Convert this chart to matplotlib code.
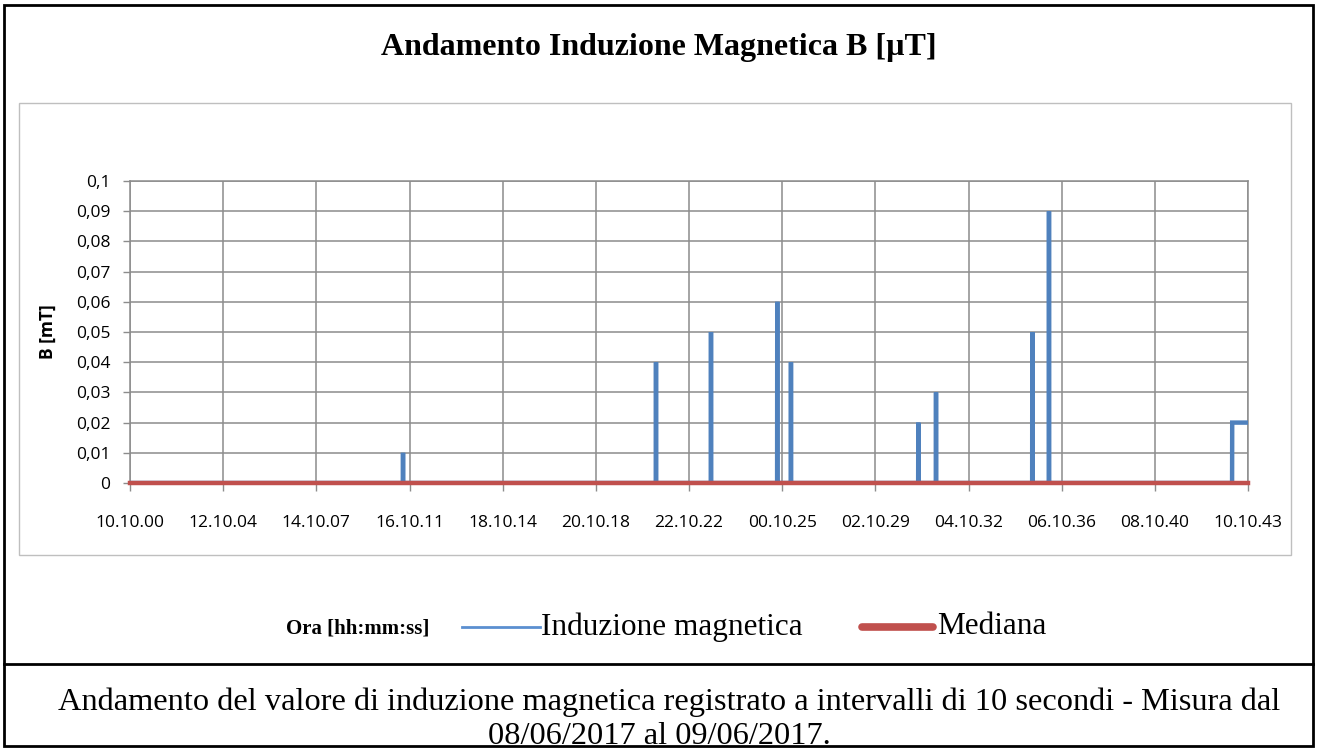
import numpy as np
import matplotlib
matplotlib.use("Agg")
from matplotlib import pyplot as plt
from matplotlib.lines import Line2D
from matplotlib.patches import Rectangle

W, H = 1318, 748

# samples every ~10 s, a label every 720 samples
N_SAMPLES = 8641
LABEL_STEP = 720
tick_labels = ["10.10.00", "12.10.04", "14.10.07", "16.10.11", "18.10.14",
               "20.10.18", "22.10.22", "00.10.25", "02.10.29", "04.10.32",
               "06.10.36", "08.10.40", "10.10.43"]

# non-zero readings (sample index, value in mT)
spike_idx = [2110, 4065, 4490, 5002, 5108, 6092, 6229, 6973, 7102]
spike_val = [0.01, 0.04, 0.05, 0.06, 0.04, 0.02, 0.03, 0.05, 0.09]
tail_start = 8518
tail_val = 0.02
median_val = 0.0

y_ticks = [0, 0.01, 0.02, 0.03, 0.04, 0.05, 0.06, 0.07, 0.08, 0.09, 0.1]

BLUE = "#4F81BD"
RED = "#C0504D"
GRID = "#8C8C8C"
SERIF = "Liberation Serif"
SANS = "Open Sans"


def fx(px):
    return px / W


def fy(py):
    return 1 - py / H


b = np.zeros(N_SAMPLES)
b[spike_idx] = spike_val
b[tail_start:] = tail_val
x = np.arange(N_SAMPLES)
median = np.full(N_SAMPLES, median_val)

fig = plt.figure(figsize=(W / 100, H / 100), dpi=100)

# outer table frame + caption separator
fig.add_artist(Rectangle((fx(4), fy(746)), fx(1309), 741 / H, transform=fig.transFigure,
                         fill=False, edgecolor="black", linewidth=2))
fig.add_artist(Line2D([fx(4), fx(1313)], [fy(664), fy(664)], transform=fig.transFigure,
                      color="black", linewidth=2))
# chart area border
fig.add_artist(Rectangle((fx(19), fy(555)), fx(1272), 452 / H, transform=fig.transFigure,
                         fill=False, edgecolor="#BFBFBF", linewidth=1))

ax = fig.add_axes([fx(130), fy(483), fx(1118), 302 / H])
ax.plot(x, b, color=BLUE, linewidth=3.2, solid_joinstyle="miter", zorder=3)
ax.plot(x, median, color=RED, linewidth=3.2, zorder=4, clip_on=False)

ax.set_xlim(0, N_SAMPLES - 1)
ax.set_ylim(0, 0.1)
ax.set_xticks(np.arange(0, N_SAMPLES, LABEL_STEP))
ax.set_xticklabels(tick_labels, fontfamily=SANS, fontsize=12.5)
ax.set_yticks(y_ticks)
ax.set_yticklabels([("%g" % v).replace(".", ",") for v in y_ticks],
                   fontfamily=SANS, fontsize=12.5)
ax.tick_params(axis="x", direction="out", length=6, width=1, color=GRID, pad=17)
ax.tick_params(axis="y", direction="out", length=5, width=1, color=GRID, pad=9)
ax.grid(True, color=GRID, linewidth=1.1)
ax.set_axisbelow(True)
for side in ax.spines:
    ax.spines[side].set_color(GRID)
    ax.spines[side].set_linewidth(1.1)

ax.set_ylabel("B [mT]", fontfamily=SANS, fontweight="bold", fontsize=12.5, labelpad=14)

fig.text(fx(659), fy(47), "Andamento Induzione Magnetica B [µT]", ha="center", va="center",
         fontfamily=SERIF, fontweight="bold", fontsize=23)

# legend row: x axis title, then the two series keys
fig.text(fx(358), fy(629), "Ora [hh:mm:ss]", ha="center", va="center",
         fontfamily=SERIF, fontweight="bold", fontsize=15)
fig.add_artist(Line2D([fx(462), fx(540)], [fy(627), fy(627)], transform=fig.transFigure,
                      color="#5B8FD0", linewidth=2))
fig.text(fx(541), fy(627), "Induzione magnetica", ha="left", va="center",
         fontfamily=SERIF, fontsize=22.5)
fig.add_artist(Line2D([fx(862), fx(933)], [fy(627), fy(627)], transform=fig.transFigure,
                      color=RED, linewidth=5.5, solid_capstyle="round"))
fig.text(fx(937), fy(627), "Mediana", ha="left", va="center",
         fontfamily=SERIF, fontsize=22.5)

fig.text(fx(669), fy(702),
         "Andamento del valore di induzione magnetica registrato a intervalli di 10 secondi - Misura dal",
         ha="center", va="center", fontfamily=SERIF, fontsize=23.3)
fig.text(fx(659), fy(736), "08/06/2017 al 09/06/2017.", ha="center", va="center",
         fontfamily=SERIF, fontsize=23.3)

fig.savefig("out.png", dpi=100)
